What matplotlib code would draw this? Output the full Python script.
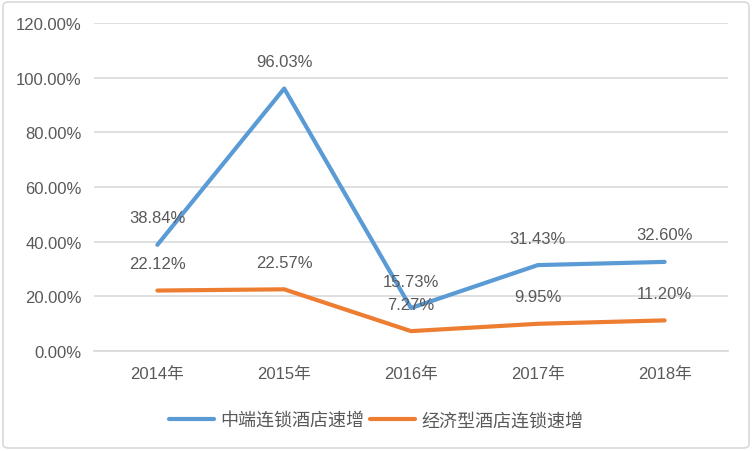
import matplotlib
matplotlib.use('Agg')
import matplotlib.pyplot as plt
from matplotlib.patches import FancyBboxPatch
from matplotlib.ticker import FuncFormatter, MultipleLocator

plt.rcParams['font.family'] = ['Liberation Sans', 'Noto Sans CJK SC']

years = ['2014年', '2015年', '2016年', '2017年', '2018年']
mid_growth = [38.84, 96.03, 15.73, 31.43, 32.60]
eco_growth = [22.12, 22.57, 7.27, 9.95, 11.20]
series_names = ['中端连锁酒店速增', '经济型酒店连锁速增']

BLUE = '#5B9BD5'
ORANGE = '#ED7D31'
TXT = '#595959'
GRID = '#D9D9D9'

fig = plt.figure(figsize=(7.52, 4.52), dpi=100)
ax = fig.add_axes([94/752, 1-352/452, (728-94)/752, (352-24)/452])

x = list(range(len(years)))
ax.plot(x, mid_growth, color=BLUE, lw=3, solid_capstyle='round', label=series_names[0])
ax.plot(x, eco_growth, color=ORANGE, lw=3, solid_capstyle='round', label=series_names[1])

# 数据标签 (偏移像素, 放在点上方)
for series in (mid_growth, eco_growth):
    for i, v in enumerate(series):
        ax.annotate(f'{v:.2f}%', (i, v), xytext=(0, 27), textcoords='offset pixels',
                    ha='center', va='center', fontsize=12, color=TXT)

ax.set_xlim(-0.5, 4.5)
ax.set_ylim(0, 120)
ax.yaxis.set_major_locator(MultipleLocator(20))
ax.yaxis.set_major_formatter(FuncFormatter(lambda v, p: f'{v:.2f}%'))
ax.set_xticks(x)
ax.set_xticklabels(years)
ax.grid(axis='y', color=GRID, lw=1.2)
ax.set_axisbelow(True)
for s in ['top', 'right', 'left']:
    ax.spines[s].set_visible(False)
ax.spines['bottom'].set_color(GRID)
ax.spines['bottom'].set_linewidth(1.2)
ax.tick_params(axis='both', length=0, labelsize=12, colors=TXT)
ax.tick_params(axis='y', pad=9)
ax.tick_params(axis='x', pad=11)

leg = fig.legend(loc='center', bbox_to_anchor=(0.5, 1-422/452), ncol=2, frameon=False,
                 fontsize=13, handlelength=2.5, handletextpad=0.35, columnspacing=0.3)
for t in leg.get_texts():
    t.set_color(TXT)

fig.patches.append(FancyBboxPatch((3/752, 3/452), 746/752, 446/452,
                                  boxstyle='round,pad=0,rounding_size=0.008',
                                  transform=fig.transFigure, fc='none', ec=GRID, lw=1.2))

fig.savefig('out.png', dpi=100, facecolor='white')
